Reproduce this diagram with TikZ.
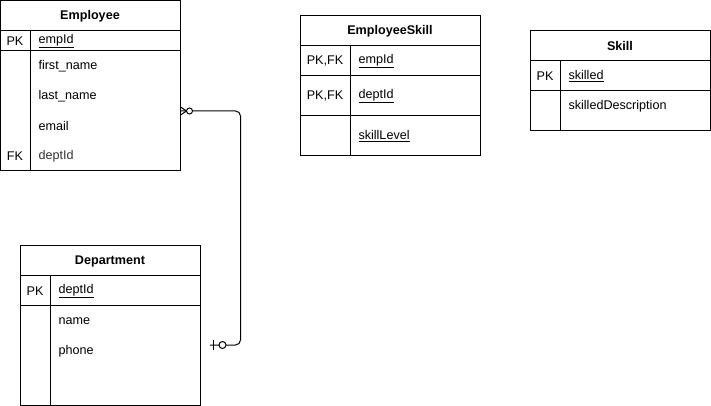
\documentclass[tikz,border=0pt]{standalone}
\usepackage{fontspec}
\setmainfont{Liberation Sans}
\begin{document}
\begin{tikzpicture}[x=1pt,y=-1pt,line width=1pt,
  font=\fontsize{12.6}{14}\selectfont,
  tbl/.style={draw=black,line width=1pt},
  ttl/.style={anchor=center,inner sep=0pt,font=\fontsize{12.6}{14}\selectfont\bfseries},
  keylbl/.style={anchor=center,inner sep=0pt},
  attr/.style={anchor=west,inner sep=0pt},
  conn/.style={draw=black,line width=1pt},
  endcircle/.style={draw=black,fill=white,line width=1pt}]
\useasboundingbox (0,0) rectangle (711,406);

% ---------- Employee ----------
\draw[tbl] (0.5,0.5) rectangle (180.5,170.5);
\draw[tbl] (0.5,30.5) -- (180.5,30.5);
\draw[tbl] (0.5,50.5) -- (180.5,50.5);
\draw[tbl] (30.5,30.5) -- (30.5,170.5);
\node[ttl] (empT) at (90,16) {Employee};
\node[keylbl] (empK1) at (15,41) {PK};
\node[attr] (empA1) at (38,41) {\underline{empId}};
\node[attr] (empA2) at (38,66) {first\_name};
\node[attr] (empA3) at (38,96) {last\_name};
\node[attr] (empA4) at (38,126) {email};
\node[keylbl] (empK5) at (15,156) {FK};
\node[attr,text=black!80] (empA5) at (38,156) {deptId};
\coordinate (empFk) at (180.5,111);

% ---------- EmployeeSkill ----------
\draw[tbl] (300.5,15.5) rectangle (480.5,155.5);
\draw[tbl] (300.5,45.5) -- (480.5,45.5);
\draw[tbl] (300.5,75.5) -- (480.5,75.5);
\draw[tbl] (300.5,115.5) -- (480.5,115.5);
\draw[tbl] (350.5,45.5) -- (350.5,155.5);
\node[ttl] (esT) at (390,31) {EmployeeSkill};
\node[keylbl] (esK1) at (325,61) {PK,FK};
\node[attr] (esA1) at (358,61) {\underline{empId}};
\node[keylbl] (esK2) at (325,96) {PK,FK};
\node[attr] (esA2) at (358,96) {\underline{deptId}};
\node[attr] (esA3) at (358,136) {\underline{skillLevel}};

% ---------- Skill ----------
\draw[tbl] (530.5,30.5) rectangle (710.5,130.5);
\draw[tbl] (530.5,60.5) -- (710.5,60.5);
\draw[tbl] (530.5,90.5) -- (710.5,90.5);
\draw[tbl] (560.5,60.5) -- (560.5,130.5);
\node[ttl] (skT) at (620,46) {Skill};
\node[keylbl] (skK1) at (545,76) {PK};
\node[attr] (skA1) at (568,76) {\underline{skilled}};
\node[attr] (skA2) at (568,106) {skilledDescription};

% ---------- Department ----------
\draw[tbl] (20.5,245.5) rectangle (200.5,405.5);
\draw[tbl] (20.5,275.5) -- (200.5,275.5);
\draw[tbl] (20.5,305.5) -- (200.5,305.5);
\draw[tbl] (50.5,275.5) -- (50.5,405.5);
\node[ttl] (dpT) at (110,261) {Department};
\node[keylbl] (dpK1) at (35,291) {PK};
\node[attr] (dpA1) at (58,291) {\underline{deptId}};
\node[attr] (dpA2) at (58,321) {name};
\node[attr] (dpA3) at (58,351) {phone};
\coordinate (deptPk) at (210,345);

% ---------- relationship Employee (zero or many) -- Department (zero or one) ----------
\draw[conn,rounded corners=5] (empFk) -- ++(60,0) |- (deptPk);
% crow's foot at the Employee end
\draw[conn] ([yshift=-4]empFk) -- ([xshift=6]empFk) -- ([yshift=4]empFk);
\draw[endcircle] ([xshift=9]empFk) circle[radius=3];
% bar and circle at the Department end
\draw[conn] ([xshift=3,yshift=-5]deptPk) -- ([xshift=3,yshift=5]deptPk);
\draw[endcircle] ([xshift=12.5]deptPk) circle[radius=3.5];
\end{tikzpicture}
\end{document}
